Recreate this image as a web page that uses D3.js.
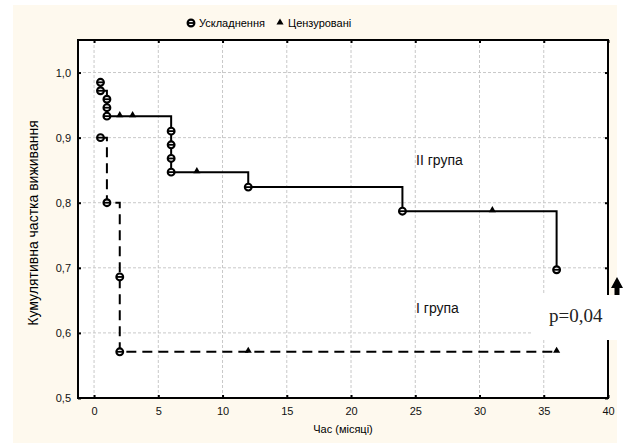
<!DOCTYPE html>
<html>
<head>
<meta charset="utf-8">
<script src="https://cdn.jsdelivr.net/npm/d3@7"></script>
<style>
	body { margin: 0; background: #ffffff; }
	svg text { font-family: Arial, "Liberation Sans", sans-serif; }
</style>
</head>
<body>
<svg id="chart" width="625" height="443"></svg>
<script>
// ---- data ----
const xTicks = [0, 5, 10, 15, 20, 25, 30, 35, 40]
const yTicks = [0.5, 0.6, 0.7, 0.8, 0.9, 1.0]

// group II (solid): events and censored cases
const group2Times = [0.5, 0.5, 1, 1, 1, 6, 6, 6, 6, 12, 24, 36]
const group2Surv  = [0.985, 0.972, 0.959, 0.946, 0.933, 0.910, 0.889, 0.868, 0.847, 0.824, 0.787, 0.697]
const group2CensTimes = [2, 3, 8, 31]
const group2CensSurv  = [0.933, 0.933, 0.847, 0.787]

// group I (dashed)
const group1Times = [0.5, 1, 2, 2]
const group1Surv  = [0.900, 0.800, 0.686, 0.571]
const group1CensTimes = [12, 36]
const group1CensSurv  = [0.571, 0.571]

const legendLabels = ["Ускладнення", "Цензуровані"]

// ---- layout ----
const svg = d3.select("#chart")
const plot = {left: 78, top: 40, right: 608, bottom: 398}

const xScale = d3.scaleLinear().domain([-1.25, 40]).range([plot.left, plot.right])
const yScale = d3.scaleLinear().domain([0.5, 1.05]).range([plot.bottom, plot.top])

// cream page background
svg.append("rect")
	.attr("x", 13).attr("y", 5)
	.attr("width", 604).attr("height", 438)
	.attr("fill", "#fef9ee")

svg.append("rect")
	.attr("x", plot.left).attr("y", plot.top)
	.attr("width", plot.right - plot.left).attr("height", plot.bottom - plot.top)
	.attr("fill", "#ffffff")

// grid
const grid = svg.append("g").attr("stroke", "#c8c8c8").attr("stroke-width", 1).attr("stroke-dasharray", "3,2")
grid.selectAll(".gx").data(xTicks.slice(0, -1)).join("line")
	.attr("x1", d => xScale(d)).attr("x2", d => xScale(d))
	.attr("y1", plot.top).attr("y2", plot.bottom)
grid.selectAll(".gy").data(yTicks.slice(1)).join("line")
	.attr("y1", d => yScale(d)).attr("y2", d => yScale(d))
	.attr("x1", plot.left).attr("x2", plot.right)

// axes (ticks inward)
const xAxis = d3.axisBottom(xScale).tickValues(xTicks).tickSize(-3).tickPadding(9)
	.tickFormat(d3.format("d"))
const yAxis = d3.axisLeft(yScale).tickValues(yTicks).tickSize(-3).tickPadding(7)
	.tickFormat(d => d3.format(".1f")(d).replace(".", ","))

function styleAxis(g){
	g.select(".domain").remove()
	g.selectAll("line").attr("stroke", "#000").attr("stroke-width", 2)
	g.selectAll("text").style("font-size", "11px").attr("fill", "#111")
}

svg.append("g").attr("transform", "translate(0," + plot.bottom + ")").call(xAxis).call(styleAxis)
svg.append("g").attr("transform", "translate(" + plot.left + ",0)").call(yAxis).call(styleAxis)
// top / right tick marks
svg.append("g").attr("transform", "translate(0," + plot.top + ")")
	.call(d3.axisTop(xScale).tickValues(xTicks).tickSize(-3).tickFormat(""))
	.call(styleAxis)
svg.append("g").attr("transform", "translate(" + plot.right + ",0)")
	.call(d3.axisRight(yScale).tickValues(yTicks).tickSize(-3).tickFormat(""))
	.call(styleAxis)

// frame
svg.append("rect")
	.attr("x", plot.left).attr("y", plot.top)
	.attr("width", plot.right - plot.left).attr("height", plot.bottom - plot.top)
	.attr("fill", "none").attr("stroke", "#000").attr("stroke-width", 2)

// step path builder
function stepPoints(times, surv, endTime){
	let pts = [[times[0], surv[0]]]
	for (let i = 1; i < times.length; i++){
		pts.push([times[i], surv[i-1]])
		pts.push([times[i], surv[i]])
	}
	if (endTime != null) pts.push([endTime, surv[surv.length-1]])
	return pts
}
const line = d3.line().x(d => xScale(d[0])).y(d => yScale(d[1]))

const curves = svg.append("g")
curves.append("path")
	.attr("d", line(stepPoints(group1Times, group1Surv, d3.max(group1CensTimes))))
	.attr("fill", "none").attr("stroke", "#000").attr("stroke-width", 2)
	.attr("stroke-dasharray", "10,6")
curves.append("path")
	.attr("d", line(stepPoints(group2Times, group2Surv)))
	.attr("fill", "none").attr("stroke", "#000").attr("stroke-width", 2)

// markers
function eventMarker(g, x, y){
	g.append("circle").attr("cx", x).attr("cy", y).attr("r", 3.4)
		.attr("fill", "#fff").attr("stroke", "#000").attr("stroke-width", 2.1)
	g.append("line").attr("x1", x - 3).attr("x2", x + 3).attr("y1", y).attr("y2", y)
		.attr("stroke", "#000").attr("stroke-width", 1.8)
}
const triangle = d3.symbol().type(d3.symbolTriangle).size(22)

const marks = svg.append("g")
group2Times.forEach((t, i) => eventMarker(marks, xScale(t), yScale(group2Surv[i])))
group1Times.forEach((t, i) => eventMarker(marks, xScale(t), yScale(group1Surv[i])))
const cens = group2CensTimes.map((t, i) => [t, group2CensSurv[i]])
	.concat(group1CensTimes.map((t, i) => [t, group1CensSurv[i]]))
marks.selectAll(".cens").data(cens).join("path")
	.attr("d", triangle)
	.attr("transform", d => "translate(" + xScale(d[0]) + "," + (yScale(d[1]) - 1) + ")")
	.attr("fill", "#000")

// group labels
svg.append("text").attr("x", 416).attr("y", 165).style("font-size", "14px").attr("fill", "#111").text("II група")
svg.append("text").attr("x", 416).attr("y", 313).style("font-size", "14px").attr("fill", "#111").text("I група")

// arrow + p-value box
svg.append("path")
	.attr("d", "M617,277 L623,288 L619.5,288 L619.5,296 L614.5,296 L614.5,288 L611,288 Z")
	.attr("fill", "#000")
svg.append("rect").attr("x", 533).attr("y", 295).attr("width", 92).attr("height", 45).attr("fill", "#ffffff")
svg.append("text").attr("x", 549).attr("y", 322)
	.style("font-family", "'Times New Roman', 'Liberation Serif', serif").style("font-size", "19px")
	.attr("fill", "#222").text("p=0,04")

// legend
const legend = svg.append("g")
eventMarker(legend, 191, 23)
legend.append("text").attr("x", 199).attr("y", 27).style("font-size", "11px").text(legendLabels[0])
legend.append("path").attr("d", triangle).attr("transform", "translate(280,22.5)").attr("fill", "#000")
legend.append("text").attr("x", 288).attr("y", 27).style("font-size", "11px").text(legendLabels[1])

// axis titles
svg.append("text").attr("x", 343).attr("y", 433).attr("text-anchor", "middle")
	.style("font-size", "11px").text("Час (місяці)")
svg.append("text").attr("transform", "translate(38,223) rotate(-90)").attr("text-anchor", "middle")
	.style("font-size", "14px").text("Кумулятивна частка виживання")
</script>
</body>
</html>
